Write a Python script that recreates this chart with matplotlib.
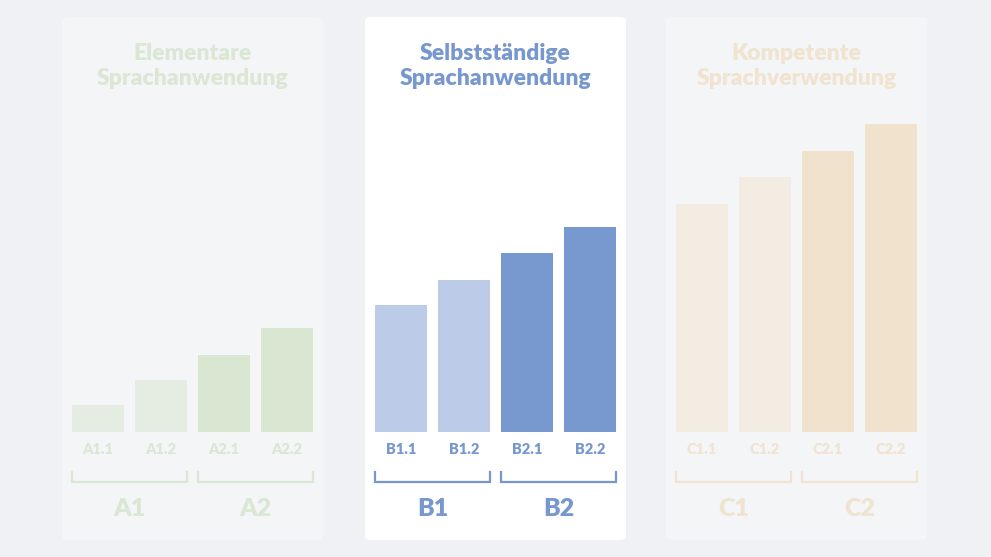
import matplotlib.pyplot as plt
from matplotlib.patches import FancyBboxPatch

# Daten: Balkenhöhen je Niveau (relative Einheiten)
panel_titles = ["Elementare\nSprachanwendung",
                "Selbstständige\nSprachanwendung",
                "Kompetente\nSprachverwendung"]
level_labels = [["A1.1", "A1.2", "A2.1", "A2.2"],
                ["B1.1", "B1.2", "B2.1", "B2.2"],
                ["C1.1", "C1.2", "C2.1", "C2.2"]]
group_labels = [["A1", "A2"], ["B1", "B2"], ["C1", "C2"]]
values_a = [27, 52, 77, 104]
values_b = [127, 152, 179, 205]
values_c = [228, 255, 281, 308]
values = [values_a, values_b, values_c]

# Farben: (hell, dunkel, Text)
colors = [("#e5ece1", "#d9e6d2", "#dbe7d5"),
          ("#bccbe7", "#7899cf", "#7698cf"),
          ("#f3ece2", "#f0e2cd", "#f0e3cf")]
panel_bg = ["#f3f5f7", "#ffffff", "#f3f5f7"]

W, H = 991, 557
fig = plt.figure(figsize=(W / 100, H / 100), dpi=100)
fig.patch.set_facecolor("#eff1f4")

panel_left = [62, 365, 666]
panel_w = 261
bar_w = 0.825
font = ["Lato", "DejaVu Sans"]

for p in range(3):
    # Hintergrundkarte
    card = FancyBboxPatch((panel_left[p] / W, 17 / H), panel_w / W, 523 / H,
                          boxstyle="round,pad=0,rounding_size=0.007",
                          transform=fig.transFigure, facecolor=panel_bg[p],
                          edgecolor="none", zorder=-1)
    fig.patches.append(card)

    ax = fig.add_axes([(panel_left[p] + 4.5) / W, (H - 432) / H, 252 / W, 320 / H])
    ax.set_zorder(2)
    ax.set_xlim(-0.5, 3.5)
    ax.set_ylim(0, 320)
    ax.axis("off")
    light, dark, txt = colors[p]
    bar_colors = [light, light, dark, dark]
    ax.bar(range(4), values[p], width=bar_w, color=bar_colors)

    # Titel
    ax.text(1.5, 366, panel_titles[p], ha="center", va="center", color=txt,
            fontsize=16.5, fontweight="heavy", family=font, linespacing=1.2,
            clip_on=False)

    # Niveau-Beschriftungen
    for i, lab in enumerate(level_labels[p]):
        ax.text(i, -18, lab, ha="center", va="center", color=txt,
                fontsize=10.5, fontweight="heavy", family=font, clip_on=False)

    # Klammern und Gruppen
    for g in range(2):
        x0 = 2 * g - bar_w / 2
        x1 = 2 * g + 1 + bar_w / 2
        ax.plot([x0, x0, x1, x1], [-40, -50, -50, -40], color=txt, lw=1.6,
                clip_on=False, solid_joinstyle="miter")
        ax.text(2 * g + 0.5, -77, group_labels[p][g], ha="center", va="center",
                color=txt, fontsize=18, fontweight="heavy", family=font,
                clip_on=False)

fig.savefig("out.png", dpi=100, facecolor=fig.get_facecolor())
